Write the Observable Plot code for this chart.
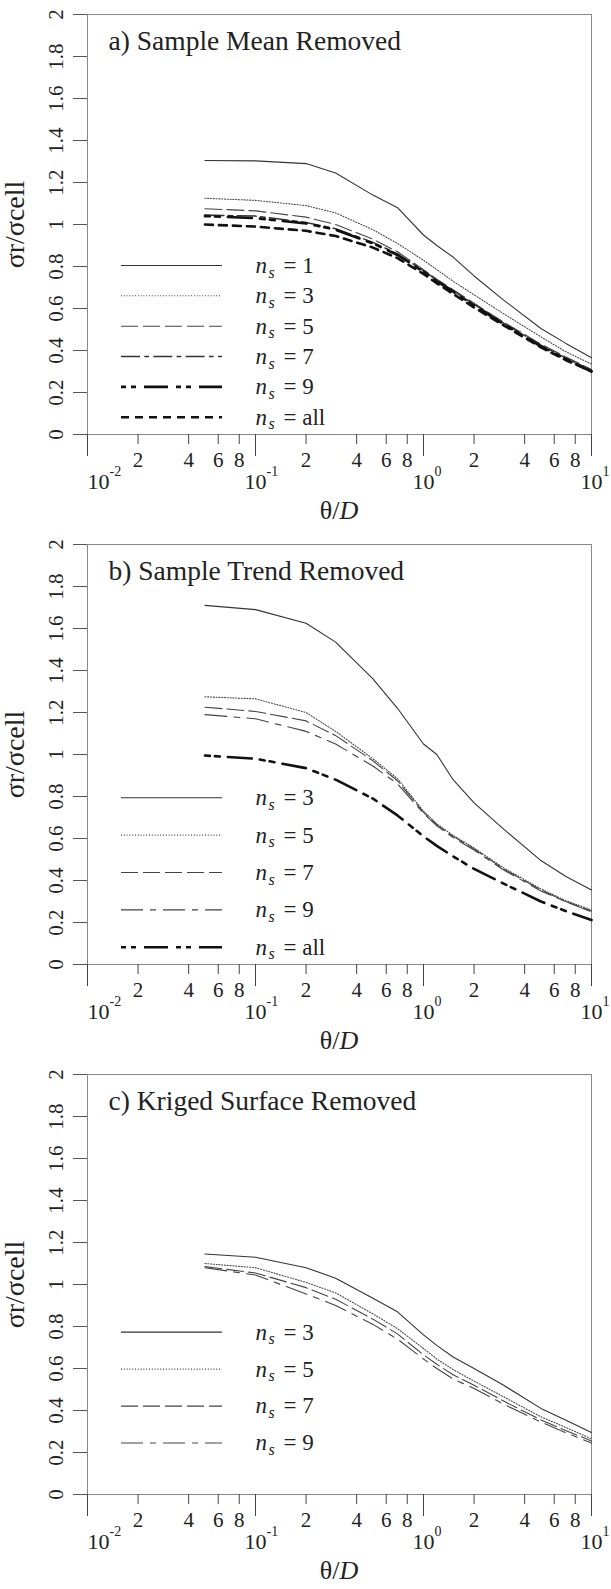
<!DOCTYPE html>
<html><head><meta charset="utf-8">
<script src="https://cdn.jsdelivr.net/npm/d3@7"></script>
<script src="https://cdn.jsdelivr.net/npm/@observablehq/plot@0.6"></script>
<style>
body{margin:0;background:#fff}
#chart svg{display:block}
</style></head><body><div id="chart"></div>
<script>
// ---------- data ----------
const thetaD = [0.05, 0.1, 0.2, 0.3, 0.5, 0.7, 1, 1.2, 1.5, 2, 3, 5, 7, 10];

// a) Sample Mean Removed
const a_ns1   = [1.305, 1.303, 1.29, 1.245, 1.14, 1.08, 0.95, 0.90, 0.845, 0.755, 0.64, 0.505, 0.435, 0.365];
const a_ns3   = [1.125, 1.115, 1.09, 1.055, 0.975, 0.91, 0.83, 0.785, 0.73, 0.665, 0.575, 0.465, 0.395, 0.335];
const a_ns5   = [1.075, 1.065, 1.035, 1.0, 0.93, 0.87, 0.785, 0.74, 0.69, 0.625, 0.535, 0.43, 0.37, 0.31];
const a_ns7   = [1.045, 1.04, 1.01, 0.98, 0.915, 0.86, 0.78, 0.735, 0.685, 0.62, 0.53, 0.425, 0.365, 0.305];
const a_ns9   = [1.04, 1.03, 1.005, 0.975, 0.91, 0.855, 0.775, 0.73, 0.68, 0.615, 0.525, 0.42, 0.36, 0.30];
const a_nsAll = [1.0, 0.99, 0.97, 0.945, 0.89, 0.84, 0.765, 0.72, 0.67, 0.605, 0.52, 0.415, 0.355, 0.30];

// b) Sample Trend Removed
const b_ns3   = [1.71, 1.69, 1.625, 1.535, 1.36, 1.22, 1.05, 1.0, 0.88, 0.77, 0.645, 0.495, 0.42, 0.355];
const b_ns5   = [1.275, 1.265, 1.2, 1.11, 0.98, 0.885, 0.73, 0.67, 0.615, 0.555, 0.46, 0.36, 0.305, 0.26];
const b_ns7   = [1.225, 1.205, 1.16, 1.09, 0.97, 0.875, 0.725, 0.665, 0.61, 0.55, 0.455, 0.355, 0.30, 0.255];
const b_ns9   = [1.19, 1.17, 1.11, 1.05, 0.945, 0.86, 0.72, 0.66, 0.605, 0.545, 0.45, 0.35, 0.30, 0.25];
const b_nsAll = [0.995, 0.98, 0.935, 0.88, 0.79, 0.71, 0.61, 0.565, 0.515, 0.455, 0.385, 0.30, 0.255, 0.212];

// c) Kriged Surface Removed
const c_ns3 = [1.145, 1.13, 1.08, 1.03, 0.935, 0.87, 0.76, 0.71, 0.655, 0.6, 0.52, 0.41, 0.355, 0.295];
const c_ns5 = [1.1, 1.08, 1.01, 0.96, 0.86, 0.79, 0.695, 0.645, 0.595, 0.54, 0.465, 0.37, 0.32, 0.265];
const c_ns7 = [1.085, 1.055, 0.985, 0.93, 0.835, 0.765, 0.665, 0.62, 0.57, 0.52, 0.445, 0.355, 0.305, 0.255];
const c_ns9 = [1.08, 1.045, 0.955, 0.9, 0.81, 0.74, 0.645, 0.6, 0.55, 0.505, 0.43, 0.345, 0.295, 0.245];

const titles = ["a) Sample Mean Removed", "b) Sample Trend Removed", "c) Kriged Surface Removed"];
const legendA = ["1", "3", "5", "7", "9", "all"];
const legendB = ["3", "5", "7", "9", "all"];
const legendC = ["3", "5", "7", "9"];

const yTicks = [0, 0.2, 0.4, 0.6, 0.8, 1, 1.2, 1.4, 1.6, 1.8, 2];
const yTickLabels = ["0", "0.2", "0.4", "0.6", "0.8", "1", "1.2", "1.4", "1.6", "1.8", "2"];
const majorTicks = [0.01, 0.1, 1, 10];
const majorExponents = ["-2", "-1", "0", "1"];
const minorTicks = [0.02, 0.04, 0.06, 0.08, 0.2, 0.4, 0.6, 0.8, 2, 4, 6, 8];
const minorTickLabels = ["2", "4", "6", "8", "2", "4", "6", "8", "2", "4", "6", "8"];

// ---------- styles ----------
const FONT = "'Liberation Serif','Times New Roman',serif";
const INK = "#222";
const STY = {
  solid:       {stroke: "#333", strokeWidth: 1.1},
  dotted:      {stroke: "#444", strokeWidth: 1.1, strokeDasharray: "1,1.8"},
  dashed:      {stroke: "#444", strokeWidth: 1.1, strokeDasharray: "17,5"},
  dashdot:     {stroke: "#333", strokeWidth: 1.5, strokeDasharray: "19,4.3,4.7,4.3"},
  thinDashdot: {stroke: "#444", strokeWidth: 1.1, strokeDasharray: "22,7,6,7"},
  thickDDD:    {stroke: "#111", strokeWidth: 2.6, strokeDasharray: "5,5,5,8,24,8"},
  thickDashed: {stroke: "#111", strokeWidth: 2.6, strokeDasharray: "8,6"}
};

const panels = [
  {title: titles[0], legendTop: 0.805, legendStep: 0.1446,
   series: [[a_ns1, "solid"], [a_ns3, "dotted"], [a_ns5, "dashed"], [a_ns7, "dashdot"], [a_ns9, "thickDDD"], [a_nsAll, "thickDashed"]],
   labels: legendA},
  {title: titles[1], legendTop: 0.794, legendStep: 0.178,
   series: [[b_ns3, "solid"], [b_ns5, "dotted"], [b_ns7, "dashed"], [b_ns9, "thinDashdot"], [b_nsAll, "thickDDD"]],
   labels: legendB},
  {title: titles[2], legendTop: 0.773, legendStep: 0.176,
   series: [[c_ns3, "solid"], [c_ns5, "dotted"], [c_ns7, "dashed"], [c_ns9, "thinDashdot"]],
   labels: legendC}
];

function majorLabelMarks(ticks, exps, shift) {
  return [
    Plot.text(ticks, {x: d => d, text: () => "10", frameAnchor: "bottom", dx: shift, dy: 47,
      lineAnchor: "middle", fontSize: 22, fill: INK, fontFamily: FONT}),
    Plot.text(ticks, {x: d => d, text: (d, i) => exps[i], frameAnchor: "bottom", dx: 11 + shift, dy: 37,
      textAnchor: "start", lineAnchor: "middle", fontSize: 14, fill: INK, fontFamily: FONT})
  ];
}

function makePanel(p) {
  const marks = [];
  marks.push(Plot.frame({stroke: "#888", strokeWidth: 1}));
  // y axis: ticks + rotated labels
  marks.push(Plot.axisY({ticks: yTicks, tickSize: 14, tickPadding: 11, tickRotate: -90,
    tickFormat: d => yTickLabels[yTicks.indexOf(d)], stroke: "#555", fill: INK,
    fontSize: 21, fontFamily: FONT, label: null}));
  // x axis ticks
  marks.push(Plot.axisX({ticks: majorTicks, tickSize: 22, fill: "none", stroke: "#444", label: null}));
  marks.push(Plot.axisX({ticks: minorTicks, tickSize: 10, fill: "none", stroke: "#444", label: null}));
  // x tick labels
  marks.push(Plot.text(minorTicks, {x: d => d, text: (d, i) => minorTickLabels[i], frameAnchor: "bottom", dy: 26,
    lineAnchor: "middle", fontSize: 21, fill: INK, fontFamily: FONT}));
  marks.push(...majorLabelMarks(majorTicks.slice(0, 1), majorExponents.slice(0, 1), 11));
  marks.push(...majorLabelMarks(majorTicks.slice(1), majorExponents.slice(1), 0));
  // axis labels
  marks.push(Plot.text(["θ/"], {frameAnchor: "bottom", dy: 76, textAnchor: "end", lineAnchor: "middle",
    fontSize: 26, fill: INK, fontFamily: FONT}));
  marks.push(Plot.text(["D"], {frameAnchor: "bottom", dy: 76, textAnchor: "start", lineAnchor: "middle",
    fontSize: 26, fontStyle: "italic", fill: INK, fontFamily: FONT}));
  marks.push(Plot.text(["σr/σcell"], {frameAnchor: "left", dx: -72, rotate: -90, textAnchor: "middle",
    lineAnchor: "middle", fontSize: 28, fill: INK, fontFamily: FONT, ariaLabel: "ylabel"}));
  // title
  marks.push(Plot.text([p.title], {frameAnchor: "top-left", dx: 21, dy: 27, textAnchor: "start",
    lineAnchor: "middle", fontSize: 27.5, fill: INK, fontFamily: FONT}));
  // series
  p.series.forEach(([vals, sty]) => {
    const rows = thetaD.map((x, i) => ({x, y: vals[i]}));
    marks.push(Plot.line(rows, {x: "x", y: "y", ...STY[sty]}));
  });
  // legend
  p.series.forEach(([vals, sty], i) => {
    const ly = p.legendTop - i * p.legendStep;
    marks.push(Plot.ruleY([ly], {y: d => d, insetLeft: 34, insetRight: 369, ...STY[sty]}));
    marks.push(Plot.text([ly], {y: d => d, text: () => "n", frameAnchor: "left", dx: 168, textAnchor: "start",
      lineAnchor: "middle", fontSize: 23, fontStyle: "italic", fill: INK, fontFamily: FONT}));
    marks.push(Plot.text([ly], {y: d => d, text: () => "s", frameAnchor: "left", dx: 181, dy: 7, textAnchor: "start",
      lineAnchor: "middle", fontSize: 16, fontStyle: "italic", fill: INK, fontFamily: FONT}));
    marks.push(Plot.text([ly], {y: d => d, text: () => "= " + p.labels[i], frameAnchor: "left", dx: 196, textAnchor: "start",
      lineAnchor: "middle", fontSize: 23, fill: INK, fontFamily: FONT}));
  });

  const svg = Plot.plot({
    width: 611, height: 530,
    marginTop: 14, marginBottom: 96, marginLeft: 87, marginRight: 20,
    x: {type: "log", domain: [0.01, 10]},
    y: {domain: [0, 2]},
    style: {background: "#fff", fontFamily: FONT},
    marks
  });

  // y-axis label with subscripts
  const t = svg.querySelector('g[aria-label="ylabel"] text');
  if (t) {
    t.textContent = "";
    const sel = d3.select(t);
    sel.append("tspan").text("σ");
    sel.append("tspan").attr("font-style", "italic").attr("font-size", 19).attr("dy", 7).text("r");
    sel.append("tspan").attr("dy", -7).text("/σ");
    sel.append("tspan").attr("font-style", "italic").attr("font-size", 19).attr("dy", 7).text("cell");
  }
  return svg;
}

const root = document.getElementById("chart");
panels.forEach(p => root.appendChild(makePanel(p)));
</script>
</body></html>
